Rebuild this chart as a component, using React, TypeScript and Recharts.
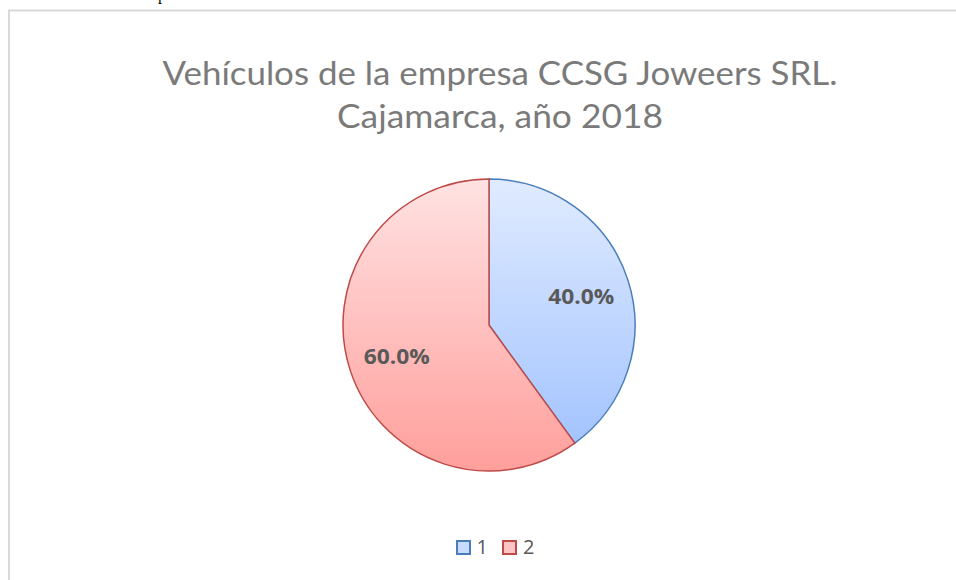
import React from "react";
import { PieChart, Pie, Cell, Legend } from "recharts";

const categories = ["1", "2"];
const values = [40, 60];
const titleLines = ["Vehículos de la empresa CCSG Joweers SRL.", "Cajamarca, año 2018"];

const fills = ["url(#gradBlue)", "url(#gradRed)"];
const strokes = ["#4a7ebb", "#be4b48"];
const legendFills = ["#c9dcff", "#ffc4c4"];

const data = categories.map((c, i) => ({ name: c, value: values[i] }));

const RAD = Math.PI / 180;

const renderLabel = (props: any) => {
  const { cx, cy, midAngle, outerRadius, percent } = props;
  const r = outerRadius * 0.665;
  const x = cx + r * Math.cos(-midAngle * RAD);
  const y = cy + r * Math.sin(-midAngle * RAD);
  return (
    <text
      x={x}
      y={y}
      fill="#595959"
      textAnchor="middle"
      dominantBaseline="central"
      fontFamily="'Open Sans', sans-serif"
      fontWeight={700}
      fontSize={22}
      textLength={66}
      lengthAdjust="spacingAndGlyphs"
    >
      {(percent * 100).toFixed(1) + "%"}
    </text>
  );
};

const renderLegend = (props: any) => {
  const payload = props.payload || [];
  return (
    <div
      style={{
        display: "flex",
        justifyContent: "center",
        alignItems: "center",
        paddingLeft: 34,
        fontFamily: "'Open Sans', sans-serif",
        fontSize: 20,
        lineHeight: "24px",
        color: "#595959",
      }}
    >
      {payload.map((p: any, i: number) => (
        <div key={i} style={{ display: "flex", alignItems: "center", marginRight: i === 0 ? 14 : 0 }}>
          <div
            style={{
              width: 11,
              height: 11,
              border: `2px solid ${strokes[i]}`,
              background: legendFills[i],
              marginRight: 6,
            }}
          />
          <span>{p.value}</span>
        </div>
      ))}
    </div>
  );
};

export default function App() {
  return (
    <div style={{ position: "absolute", left: 0, top: 0, width: 956, height: 580, overflow: "hidden", background: "#fff" }}>
      <div
        style={{
          position: "absolute",
          left: 158,
          top: -14,
          fontFamily: "'Liberation Serif', serif",
          fontSize: 16,
          color: "#000",
        }}
      >
        p
      </div>
      <svg width={956} height={580} style={{ position: "absolute", left: 0, top: 0 }}>
        <rect x={9} y={10.5} width={1000} height={1000} fill="none" stroke="#d9d9d9" strokeWidth={2} />
        <text
          x={500}
          y={85}
          textAnchor="middle"
          fill="#7a7a7a"
          fontFamily="Lato, sans-serif"
          fontWeight={400}
          fontSize={32}
          textLength={675}
          lengthAdjust="spacingAndGlyphs"
        >
          {titleLines[0]}
        </text>
        <text
          x={500}
          y={128}
          textAnchor="middle"
          fill="#7a7a7a"
          fontFamily="Lato, sans-serif"
          fontWeight={400}
          fontSize={32}
          textLength={326}
          lengthAdjust="spacingAndGlyphs"
        >
          {titleLines[1]}
        </text>
      </svg>
      <div style={{ position: "absolute", left: 0, top: 0 }}>
        <PieChart width={956} height={580} margin={{ top: 0, right: 0, bottom: 0, left: 0 }}>
          <defs>
            <linearGradient id="gradBlue" x1="0" y1="0" x2="0" y2="1">
              <stop offset="0%" stopColor="#e0ebff" />
              <stop offset="100%" stopColor="#a4c4ff" />
            </linearGradient>
            <linearGradient id="gradRed" x1="0" y1="0" x2="0" y2="1">
              <stop offset="0%" stopColor="#ffe2e2" />
              <stop offset="100%" stopColor="#ff9f9c" />
            </linearGradient>
          </defs>
          <Pie
            data={data}
            dataKey="value"
            nameKey="name"
            cx={489}
            cy={325}
            outerRadius={146}
            startAngle={90}
            endAngle={-270}
            label={renderLabel}
            labelLine={false}
            isAnimationActive={false}
          >
            {data.map((d, i) => (
              <Cell key={d.name} fill={fills[i]} stroke={strokes[i]} strokeWidth={1.5} />
            ))}
          </Pie>
          <Legend
            content={renderLegend}
            wrapperStyle={{ position: "absolute", top: 535, left: 0, width: 956 }}
          />
        </PieChart>
      </div>
    </div>
  );
}
